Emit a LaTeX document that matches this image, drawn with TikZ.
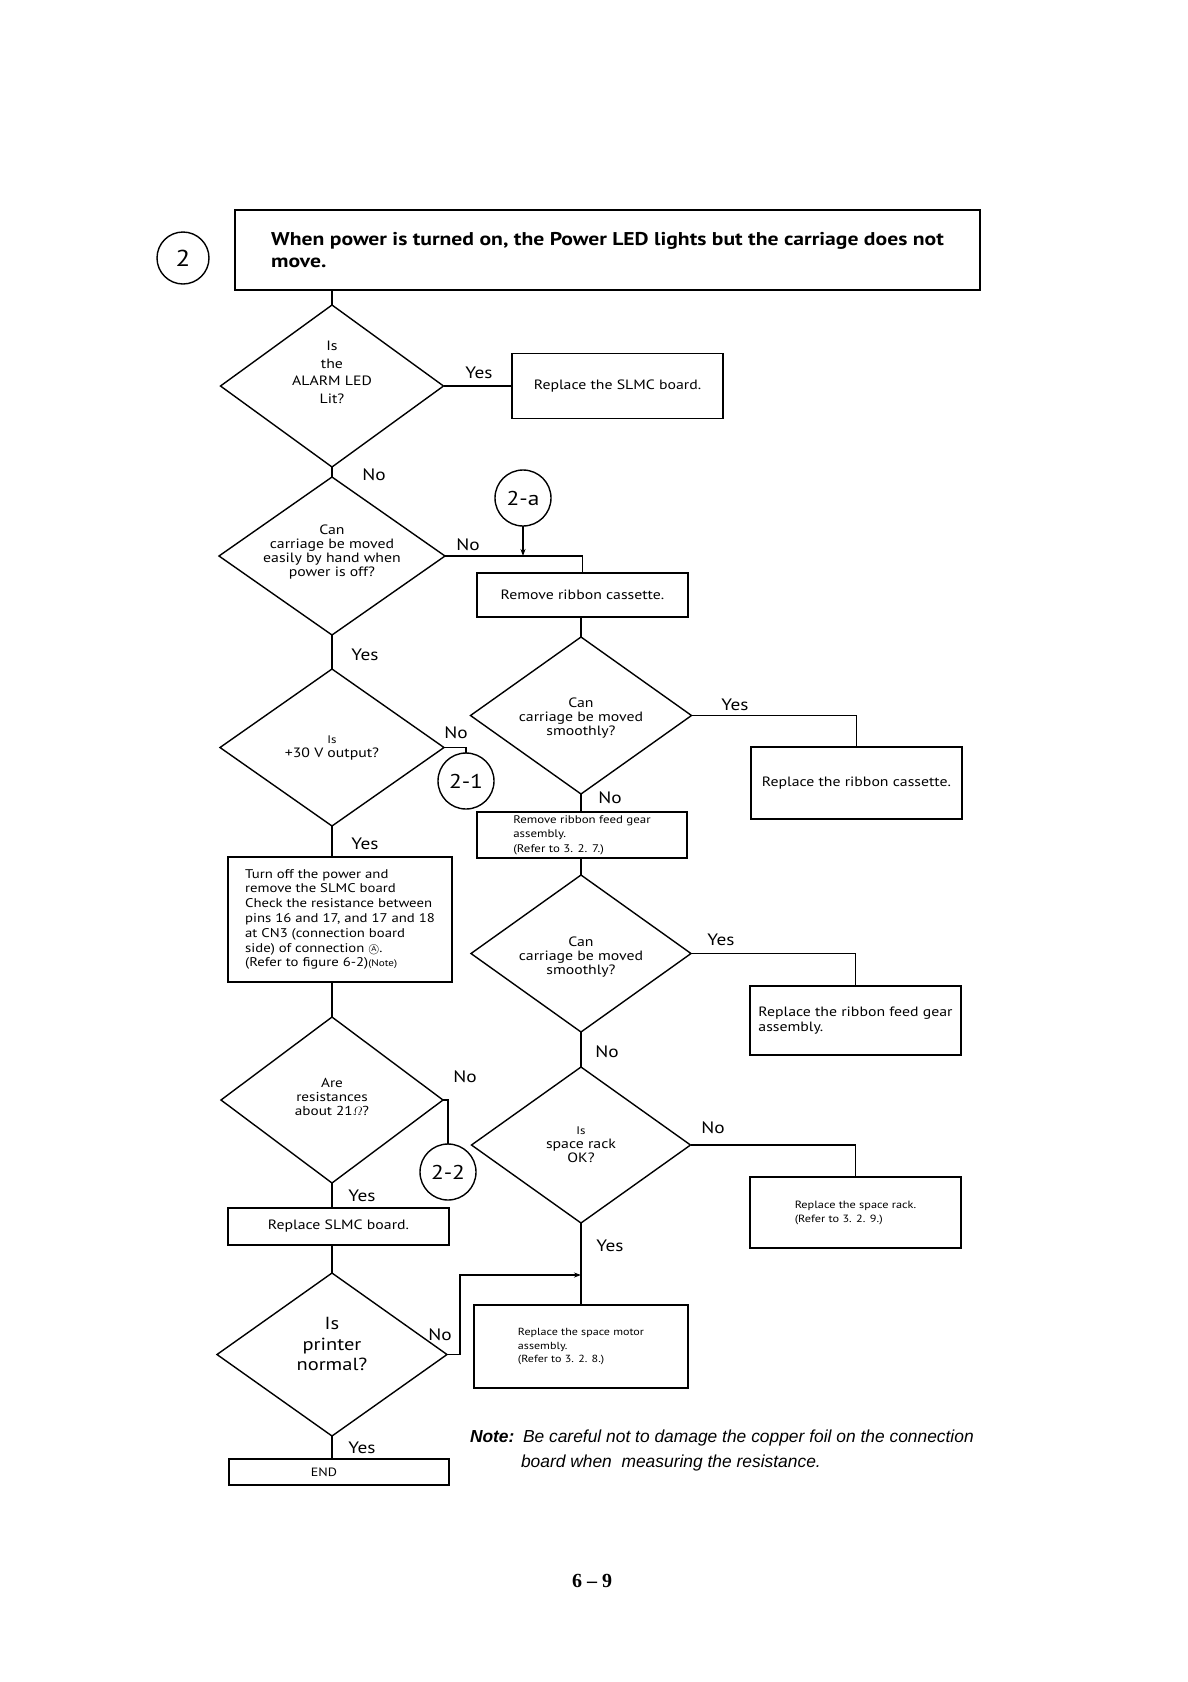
\documentclass[tikz,border=0pt]{standalone}
\usepackage{fontspec}
\usepackage{amsmath}
\setmainfont{PT Sans}[FakeStretch=1.17]
\newfontfamily\notefont{Liberation Sans}
\newfontfamily\pgfont{Liberation Serif}
\usetikzlibrary{shapes.geometric,arrows.meta,calc}
\newcommand{\fsz}[2]{\fontsize{#1}{#2}\selectfont}
\newcommand{\circA}{\smash{\fsz{11}{12}\ooalign{\hidewidth\raisebox{0.15ex}{\fsz{7.5}{8}A}\hidewidth\crcr$\bigcirc$}}}
\begin{document}
\begin{tikzpicture}[x=1pt,y=-1pt,
  every node/.style={inner sep=0pt, outer sep=0pt},
  ln/.style={line width=1.4pt},
  box/.style={draw, line width=1.4pt, rectangle, align=center, font=\fsz{13.5}{14.5}},
  smallbox/.style={box, align=left, font=\fsz{10.5}{14}},
  dia/.style={draw, line width=1.4pt, diamond},
  dtxt/.style={align=center, font=\fsz{13.5}{14}},
  circ/.style={draw, line width=1.4pt, circle, minimum size=56pt, font=\fsz{20}{24}},
  yn/.style={font=\fsz{16.5}{19}},
  arr/.style={ln, -{Stealth[length=7pt,width=5pt]}},
]
\useasboundingbox[fill=white] (0,0) rectangle (1188,1682);

% header
\node[circ, minimum size=52pt, font=\fsz{23}{26}] (c2) at (183,258) {2};
\node[box, minimum width=745pt, minimum height=80pt, align=left, font=\fsz{18.5}{22}\bfseries] (hdr) at (607.5,250)
  {\mbox{When power is turned on, the Power LED lights but the carriage does not}\\move.};

% left column
\node[dia, minimum width=223pt, minimum height=162pt,
  label={[dtxt, font=\fsz{13.5}{17.5}, yshift=13.5pt]center:{Is\\the\\ALARM LED\\Lit?}}] (d1) at (332,386) {};
\node[box, minimum width=211pt, minimum height=65pt, font=\fsz{13.5}{16}] (s1) at (617.5,386) {Replace the SLMC board.};
\node[dia, minimum width=226pt, minimum height=158pt,
  label={[dtxt, yshift=4pt]center:{Can\\carriage be moved\\easily by hand when\\power is off?}}] (d2) at (332,556) {};
\node[dia, minimum width=224pt, minimum height=157pt,
  label={[dtxt, yshift=0pt]center:{{\fsz{11}{12}Is}\\+30 V output?}}] (d30) at (332,747.5) {};
\node[box, minimum width=224pt, minimum height=125pt, align=left, font=\fsz{12.6}{14.8}] (toff) at (340,919.5)
  {Turn off the power and\\remove the SLMC board\\Check the resistance between\\pins 16 and 17, and 17 and 18\\at CN3 (connection board\\side) of connection \circA.\\ (Refer to figure 6-2){\fsz{9.5}{12}(Note)}};
\node[dia, minimum width=222pt, minimum height=166pt,
  label={[dtxt, font=\fsz{13}{14}, yshift=3pt]center:{Are\\resistances\\about 21$\varOmega$?}}] (dres) at (332,1100) {};
\node[box, minimum width=221pt, minimum height=37pt, font=\fsz{13.5}{16}] (s2) at (338.5,1226.5) {Replace SLMC board.};
\node[dia, minimum width=230pt, minimum height=163pt,
  label={[dtxt, font=\fsz{17.5}{20.5}, yshift=10.5pt]center:{Is\\printer\\normal?}}] (dp) at (332,1354.5) {};
\node[box, minimum width=220pt, minimum height=26pt, font=\fsz{12}{13}] (endb) at (339,1472) {\hspace*{-30pt}END};

% connector circles
\node[circ] (c2a) at (523,498) {2-a};
\node[circ] (c21) at (466,781) {2-1};
\node[circ] (c22) at (448,1172) {2-2};

% right column
\node[box, minimum width=211pt, minimum height=44pt] (rr) at (582.5,595) {Remove ribbon cassette.};
\node[dia, minimum width=221pt, minimum height=157pt,
  label={[dtxt, yshift=-2.5pt]center:{Can\\carriage be moved\\smoothly?}}] (d3) at (581,715.5) {};
\node[box, minimum width=211pt, minimum height=72pt] (rc) at (856.5,783) {Replace the ribbon cassette.};
\node[smallbox, minimum width=210pt, minimum height=46pt, font=\fsz{11}{14.5}] (rf) at (582,835) {Remove ribbon feed gear\\assembly.\\(Refer to 3. 2. 7.)};
\node[dia, minimum width=220pt, minimum height=157pt,
  label={[dtxt, yshift=-3.5pt]center:{Can\\carriage be moved\\smoothly?}}] (d4) at (581,953.5) {};
\node[box, align=left, minimum width=211pt, minimum height=69pt] (rfg) at (855.5,1020.5) {Replace the ribbon feed gear\\assembly.};
\node[dia, minimum width=219pt, minimum height=156pt,
  label={[dtxt, yshift=0pt]center:{{\fsz{11}{12}Is}\\space rack\\OK?}}] (ds) at (581,1145) {};
\node[smallbox, minimum width=211pt, minimum height=71pt] (sr) at (855.5,1212.5) {Replace the space rack.\\(Refer to 3. 2. 9.)};
\node[smallbox, minimum width=214pt, minimum height=83pt, font=\fsz{10.3}{13.5}] (sm) at (581,1346.5) {Replace the space motor\\assembly.\\(Refer to 3. 2. 8.)};

% connectors
\draw[ln] (hdr.south -| d1.north) -- (d1.north);
\draw[ln] (d1.east) -- (s1.west);
\draw[ln] (d1.south) -- (d2.north);
\draw[ln] (d2.east) -| (rr.north);
\draw[arr] (c2a.south) -- (c2a.south |- d2.east);
\draw[ln] (d2.south) -- (d30.north);
\draw[ln] (d30.east) -| (c21.north);
\draw[ln] (d30.south) -- (d30.south |- toff.north);
\draw[ln] (toff.south -| dres.north) -- (dres.north);
\draw[ln] (dres.east) -| (c22.north);
\draw[ln] (dres.south) -- (dres.south |- s2.north);
\draw[ln] (s2.south -| dp.north) -- (dp.north);
\draw[ln] (dp.south) -- (dp.south |- endb.north);
\draw[ln] (rr.south -| d3.north) -- (d3.north);
\draw[ln] (d3.east) -| (rc.north);
\draw[ln] (d3.south) -- (d3.south |- rf.north);
\draw[ln] (rf.south -| d4.north) -- (d4.north);
\draw[ln] (d4.east) -| (rfg.north);
\draw[ln] (d4.south) -- (ds.north);
\draw[ln] (ds.east) -| (sr.north);
\draw[ln] (ds.south) -- (ds.south |- sm.north);
\coordinate (j) at (581,1275);
\draw[arr] (dp.east) -- ++(13,0) |- (j);

% yes / no labels
\node[yn] (l1y) at (479,373) {Yes};
\node[yn] (l1n) at (374,475) {No};
\node[yn] (l2n) at (468,545) {No};
\node[yn] (l2y) at (365,655) {Yes};
\node[yn] (l30n) at (456,733) {No};
\node[yn] (l30y) at (365,844) {Yes};
\node[yn] (l3y) at (735,705) {Yes};
\node[yn] (l3n) at (610,798) {No};
\node[yn] (l4y) at (721,940) {Yes};
\node[yn] (l4n) at (607,1052) {No};
\node[yn] (lrn) at (465,1077) {No};
\node[yn] (lry) at (362,1196) {Yes};
\node[yn] (lsn) at (713,1128) {No};
\node[yn] (lsy) at (610,1246) {Yes};
\node[yn] (lpn) at (440,1335) {No};
\node[yn] (lpy) at (362,1448) {Yes};

% note and page number
\node[anchor=base west, font=\notefont\fsz{17.4}{18}\bfseries\itshape] (note) at (470,1442) {Note:};
\node[anchor=base west, font=\notefont\fsz{17.4}{18}\itshape] (note1) at (523,1442) {Be careful not to damage the copper foil on the connection};
\node[anchor=base west, font=\notefont\fsz{17.4}{18}\itshape] (note2) at (521,1467) {board when\ \ measuring the resistance.};
\node[font=\pgfont\fsz{20}{22}\bfseries] (pg) at (592,1581) {6 – 9};
\end{tikzpicture}
\end{document}
